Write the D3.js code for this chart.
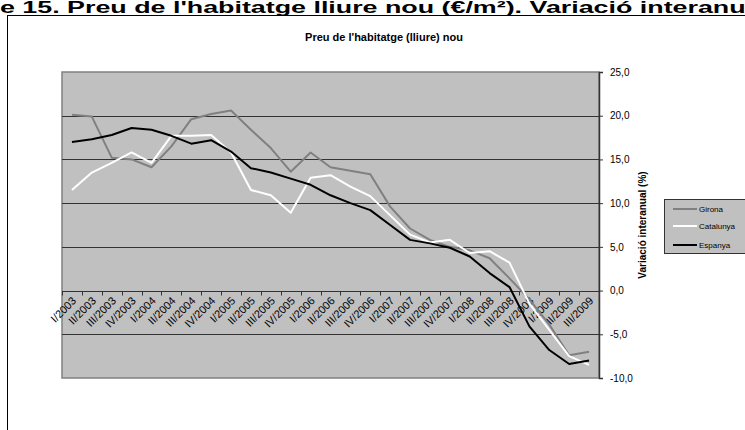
<!DOCTYPE html>
<html>
<head>
<meta charset="UTF-8" />
<title>Preu de l'habitatge (lliure) nou</title>
<script src="https://cdn.jsdelivr.net/npm/d3@7"></script>
<style>
body { margin: 0; background: #fff; }
svg { display: block; font-family: "Liberation Sans", Arial, sans-serif; }
</style>
</head>
<body>
<div id="chart"></div>
<script>
// quarters
var quarters = ['I/2003','II/2003','III/2003','IV/2003',
    'I/2004','II/2004','III/2004','IV/2004',
    'I/2005','II/2005','III/2005','IV/2005',
    'I/2006','II/2006','III/2006','IV/2006',
    'I/2007','II/2007','III/2007','IV/2007',
    'I/2008','II/2008','III/2008','IV/2008',
    'I/2009','II/2009','III/2009'];

var girona = [20.1, 19.9, 15.2, 15.0, 14.1, 16.5, 19.6, 20.2, 20.6, 18.4, 16.3, 13.6, 15.8, 14.1,
    13.7, 13.3, 9.6, 7.1, 5.8, 5.0, 4.6, 3.7, 1.4, -1.0, -3.9, -7.4, -7.0];
var catalunya = [11.5, 13.5, 14.6, 15.8, 14.6, 17.7, 17.7, 17.8, 15.8, 11.5, 10.9, 8.9, 12.9, 13.2,
    11.9, 10.8, 8.6, 6.4, 5.5, 5.8, 4.3, 4.5, 3.2, -1.5, -4.5, -7.5, -8.5];
var espanya = [17.0, 17.3, 17.8, 18.6, 18.4, 17.7, 16.8, 17.2, 15.9, 14.0, 13.5, 12.8, 12.1, 10.9,
    10.0, 9.2, 7.5, 5.8, 5.4, 4.9, 3.9, 2.0, 0.4, -4.1, -6.8, -8.4, -8.0];

var yTicks = [-10, -5, 0, 5, 10, 15, 20, 25];
var seriesNames = ['Girona', 'Catalunya', 'Espanya'];

var series = [
    {name: seriesNames[0], values: girona, color: '#808080', width: 2},
    {name: seriesNames[1], values: catalunya, color: '#ffffff', width: 2},
    {name: seriesNames[2], values: espanya, color: '#000000', width: 2}
];

var width = 745, height = 430;
var plot = {left: 62, right: 599, top: 72, bottom: 378};

var svg = d3.select('#chart').append('svg')
    .attr('width', width)
    .attr('height', height);

// chart frame
svg.append('rect')
    .attr('x', 7.5).attr('y', 15.5)
    .attr('width', 760).attr('height', 440)
    .attr('fill', '#fff')
    .attr('stroke', '#000')
    .attr('stroke-width', 1);

// header of the page
svg.append('text')
    .attr('x', 0)
    .attr('y', 13)
    .attr('textLength', 768)
    .attr('lengthAdjust', 'spacingAndGlyphs')
    .style('font-size', '16px')
    .style('font-weight', 'bold')
    .text("e 15. Preu de l'habitatge lliure nou (€/m²). Variació interanual");

svg.append('text')
    .attr('x', 384)
    .attr('y', 41)
    .attr('text-anchor', 'middle')
    .style('font-size', '11px')
    .style('font-weight', 'bold')
    .text("Preu de l'habitatge (lliure) nou");

var x = d3.scaleBand()
    .domain(quarters)
    .range([plot.left, plot.right]);

var y = d3.scaleLinear()
    .domain([-10, 25])
    .range([plot.bottom, plot.top]);

// plot area
svg.append('rect')
    .attr('x', plot.left).attr('y', plot.top)
    .attr('width', plot.right - plot.left)
    .attr('height', plot.bottom - plot.top)
    .attr('fill', '#c0c0c0')
    .attr('stroke', '#808080')
    .attr('stroke-width', 1.5);

// gridlines
svg.append('g')
    .selectAll('line')
    .data(yTicks.filter(function(d) { return d > -10 && d < 25 && d != 0; }))
    .enter().append('line')
    .attr('x1', plot.left).attr('x2', plot.right)
    .attr('y1', function(d) { return Math.round(y(d)) + 0.5; })
    .attr('y2', function(d) { return Math.round(y(d)) + 0.5; })
    .attr('stroke', '#333')
    .attr('stroke-width', 1.2);

// x axis at 0
var y0 = Math.round(y(0)) + 0.5;
var xAxis = svg.append('g');
xAxis.append('line')
    .attr('x1', plot.left).attr('x2', plot.right)
    .attr('y1', y0).attr('y2', y0)
    .attr('stroke', '#333')
    .attr('stroke-width', 1.2);
var edges = quarters.map(function(q) { return x(q); }).concat([x.range()[1]]);
xAxis.selectAll('line.tick')
    .data(edges)
    .enter().append('line')
    .attr('class', 'tick')
    .attr('x1', function(d) { return Math.round(d) + 0.5; })
    .attr('x2', function(d) { return Math.round(d) + 0.5; })
    .attr('y1', y0).attr('y2', y0 + 4)
    .attr('stroke', '#333');
xAxis.selectAll('text')
    .data(quarters)
    .enter().append('text')
    .attr('text-anchor', 'end')
    .attr('transform', function(d) {
        return 'translate(' + (x(d) + x.bandwidth() / 2 + 5) + ',' + (y0 + 10) + ') rotate(-45)';
    })
    .style('font-size', '11px')
    .text(function(d) { return d; });

// right y axis
var yAxis = d3.axisRight(y)
    .tickValues(yTicks)
    .tickSize(4)
    .tickPadding(7)
    .tickFormat(function(d) { return d.toFixed(1).replace('.', ','); });

svg.append('g')
    .attr('transform', 'translate(' + plot.right + ',0)')
    .call(yAxis)
    .call(function(g) {
        g.select('.domain').attr('stroke', '#333').attr('stroke-width', 1.5);
        g.selectAll('.tick line').attr('stroke', '#333');
        g.selectAll('.tick text')
            .attr('fill', '#000')
            .style('font-size', '10px')
            .style('font-family', '"Liberation Sans", Arial, sans-serif');
    });

svg.append('text')
    .attr('transform', 'translate(646,' + ((plot.top + plot.bottom) / 2) + ') rotate(-90)')
    .attr('text-anchor', 'middle')
    .style('font-size', '10px')
    .style('font-weight', 'bold')
    .text('Variació interanual (%)');

// lines
var line = d3.line()
    .x(function(d, i) { return x(quarters[i]) + x.bandwidth() / 2; })
    .y(function(d) { return y(d); });

svg.append('g')
    .selectAll('path')
    .data(series)
    .enter().append('path')
    .attr('d', function(s) { return line(s.values); })
    .attr('fill', 'none')
    .attr('stroke', function(s) { return s.color; })
    .attr('stroke-width', function(s) { return s.width; })
    .attr('stroke-linejoin', 'round');

// legend
var legend = svg.append('g').attr('transform', 'translate(664,199)');
legend.append('rect')
    .attr('x', 0.5).attr('y', 0.5)
    .attr('width', 100).attr('height', 54)
    .attr('fill', '#c0c0c0')
    .attr('stroke', '#333');

var rowY = [10, 27, 46];
var item = legend.selectAll('g.item')
    .data(series)
    .enter().append('g')
    .attr('class', 'item')
    .attr('transform', function(d, i) { return 'translate(0,' + rowY[i] + ')'; });
item.append('line')
    .attr('x1', 9).attr('x2', 33)
    .attr('stroke', function(d) { return d.color; })
    .attr('stroke-width', function(d) { return d.width; });
item.append('text')
    .attr('x', 35)
    .attr('dy', '0.35em')
    .style('font-size', '8px')
    .text(function(d) { return d.name; });
</script>
</body>
</html>
